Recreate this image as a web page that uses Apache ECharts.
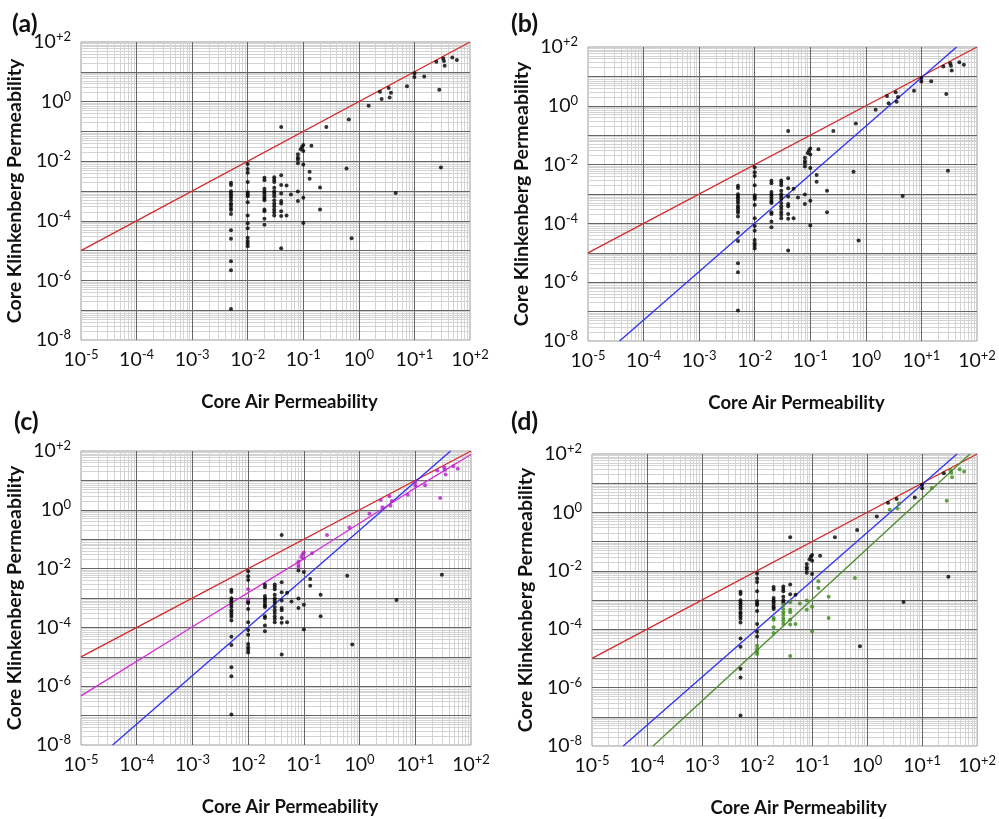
<!DOCTYPE html>
<html><head><meta charset="utf-8">
<script src="https://cdn.jsdelivr.net/npm/echarts@6/dist/echarts.min.js"></script>
<style>html,body{margin:0;padding:0;background:#fff}#c{width:999px;height:819px}</style>
</head><body><div id="c"></div>
<script>
// ---- data ----
const airPerm = [
  0.005,0.005,0.005,0.005,0.005,0.005,0.005,0.005,0.005,0.005,0.005,0.005,0.005,0.005,0.005,0.005,0.005,
  0.01,0.01,0.01,0.01,0.01,0.01,0.01,0.01,0.01,0.01,0.01,0.01,0.01,0.01,0.01,
  0.02,0.02,0.02,0.02,0.02,0.02,0.02,0.02,0.02,0.02,0.02,0.02,
  0.03,0.03,0.03,0.03,0.03,0.03,0.03,0.03,0.03,0.03,0.03,0.03,0.03,
  0.04,0.04,0.04,0.04,0.04,0.04,0.04,0.04,0.04,
  0.05,0.05,0.06,
  0.08,0.08,0.08,0.08,0.08,0.08,
  0.09,0.095,
  0.1,0.1,0.1,0.1,0.1,
  0.13,0.13,0.14,0.2,0.2,0.26,0.6,0.66,0.74,
  1.5,2.4,2.57,3.44,3.78,3.58,4.6,7.35,10,10,15,28,30,24.8,33,34,35,48,58
];
const klinkPerm = [
  1.9e-3,1.6e-3,9.9e-4,8.2e-4,7.1e-4,5.9e-4,4.9e-4,3.8e-4,3.3e-4,2.7e-4,2.3e-4,1.7e-4,4.8e-5,2.5e-5,4.4e-6,2.2e-6,1.1e-7,
  8.1e-3,5.5e-3,4.1e-3,2.0e-3,9.1e-4,7.6e-4,6.7e-4,4.2e-4,1.51e-4,8.2e-5,5.6e-5,2.7e-5,2.1e-5,1.74e-5,1.41e-5,
  2.8e-3,2.3e-3,1.18e-3,9.6e-4,8.3e-4,6.7e-4,5.6e-4,4.9e-4,2.4e-4,2.1e-4,1.17e-4,7.4e-5,
  2.9e-3,2.4e-3,2.0e-3,1.29e-3,9.9e-4,8.3e-4,6.7e-4,4.9e-4,3.8e-4,3.1e-4,2.4e-4,1.94e-4,1.51e-4,
  0.14,3.4e-3,1.58e-3,8.3e-4,4.6e-4,3.8e-4,2.1e-4,1.44e-4,1.2e-5,
  1.52e-3,1.5e-4,7.6e-4,
  0.0172,0.0133,0.0114,8.6e-3,9.6e-4,4.6e-4,
  0.025,0.03,
  0.035,0.022,7.7e-3,5.9e-4,8.5e-5,
  4.4e-3,2.6e-3,0.033,1.3e-3,2.4e-4,0.14,5.7e-3,0.25,2.6e-5,
  0.73,2.16,1.23,2.87,2.0,1.36,8.5e-4,3.27,8.9,6.7,6.9,2.5,6.2e-3,21.9,28,23,16,30,25
];
// 1 = drawn magenta in panel (c)
const magentaInC = [
  0,0,0,0,0,0,0,0,0,0,0,0,0,0,0,0,0,
  0,0,0,1,1,0,0,0,0,0,0,0,0,0,0,
  0,0,0,0,0,0,0,0,0,0,0,0,
  0,0,0,0,0,0,0,0,0,0,0,0,0,
  0,0,0,0,0,0,0,0,0,
  0,0,0,
  1,1,1,0,0,0,
  1,1,
  1,1,0,0,0,
  0,0,1,0,0,1,0,1,0,
  1,1,1,1,1,1,0,1,1,1,1,1,0,1,1,1,1,1,1
];
// 1 = drawn green in panel (d)
const greenInD = [
  0,0,0,0,0,0,0,0,0,0,0,0,0,0,0,0,0,
  0,0,0,0,0,0,0,0,0,0,0,1,1,1,1,
  0,0,0,0,0,0,0,0,1,1,1,1,
  0,0,0,0,0,0,1,1,1,1,1,1,1,
  0,0,0,1,1,1,1,1,1,
  0,1,1,
  0,0,0,0,1,1,
  0,0,
  0,0,0,1,1,
  1,1,0,1,1,0,1,0,0,
  0,0,1,0,1,1,0,0,0,0,1,1,0,0,1,1,1,1,1
];
const redLine = [[1e-5, 1e-5], [100, 100]];
const blueLine = [[3.7e-5, 1e-8], [43, 100]];
const magentaLine = [[1e-5, 4.7e-7], [1e-3, 1.05e-4], [0.1, 0.022], [10, 5.5], [100, 76]];
const greenLine = [[1.29e-4, 1e-8], [74, 100]];
const xExpRange = [-5, 2];
const yExpRange = [-8, 2];
const panelLetters = ['(a)', '(b)', '(c)', '(d)'];
const xTitle = 'Core Air Permeability';
const yTitle = 'Core Klinkenberg Permeability';

// ---- layout / style ----
const FONT = 'Lato, "Open Sans", sans-serif';
const grids = [
  {left: 81, top: 42, width: 389, height: 298},
  {left: 588, top: 47, width: 389, height: 294},
  {left: 81, top: 451, width: 390, height: 294},
  {left: 592, top: 454, width: 389, height: 292}
];
const letterPos = [[7, 6], [506, 6], [9, 404], [506, 404]];

function expText(v) {
  const e = Math.round(Math.log10(v));
  return e > 0 ? '+' + e : String(e);
}
const rich = {
  b: {fontSize: 19.5, lineHeight: 23, fontFamily: FONT, color: '#111'},
  s: {fontSize: 13, lineHeight: 15, verticalAlign: 'top', fontFamily: FONT, color: '#111'}
};

function gridValues(lo, hi, major) {
  const out = [];
  for (let e = lo; e < hi; e++) {
    if (major) { if (e > lo) out.push(Math.pow(10, e)); }
    else for (let m = 2; m <= 9; m++) out.push(m * Math.pow(10, e));
  }
  return out;
}

const xAxes = [], yAxes = [], series = [], titles = [];
grids.forEach((g, i) => {
  xAxes.push({
    gridIndex: i, type: 'log', logBase: 10, interval: 1, splitNumber: 7,
    min: Math.pow(10, xExpRange[0]), max: Math.pow(10, xExpRange[1]),
    axisLine: {show: false}, axisTick: {show: false}, splitLine: {show: false},
    axisLabel: {interval: 0, margin: 8, formatter: v => '{b|10}{s|' + expText(v) + '}', rich: rich},
    name: xTitle, nameLocation: 'middle', nameGap: 53,
    nameTextStyle: {fontSize: 18.5, fontWeight: 'bold', fontFamily: FONT, color: '#111', padding: [0, 0, 0, 28]}
  });
  yAxes.push({
    gridIndex: i, type: 'log', logBase: 10, interval: 1, splitNumber: 10,
    min: Math.pow(10, yExpRange[0]), max: Math.pow(10, yExpRange[1]),
    axisLine: {show: false}, axisTick: {show: false}, splitLine: {show: false},
    axisLabel: {interval: 0, margin: 10, hideOverlap: false, formatter: v => {
      const e = Math.round(Math.log10(v));
      return (Math.abs(e) % 2 === 0) ? '{b|10}{s|' + expText(v) + '}' : '';
    }, rich: rich},
    name: yTitle, nameLocation: 'middle', nameGap: 56, nameRotate: 90,
    nameTextStyle: {fontSize: 19.5, fontWeight: 'bold', fontFamily: FONT, color: '#111'}
  });
  titles.push({text: panelLetters[i], left: letterPos[i][0], top: letterPos[i][1],
    textStyle: {fontSize: 25, fontWeight: 'bold', fontFamily: FONT, color: '#111'}});

  const minorData = gridValues(xExpRange[0], xExpRange[1], false).map(v => ({xAxis: v}))
    .concat(gridValues(yExpRange[0], yExpRange[1], false).map(v => ({yAxis: v})));
  const majorData = gridValues(xExpRange[0], xExpRange[1], true).map(v => ({xAxis: v}))
    .concat(gridValues(yExpRange[0], yExpRange[1], true).map(v => ({yAxis: v})));
  const mk = (data, color, z) => ({silent: true, z: z, precision: 15, symbol: ['none', 'none'], label: {show: false},
    emphasis: {disabled: true}, animation: false, lineStyle: {color: color, width: 1, type: 'solid'}, data: data});
  series.push({type: 'line', xAxisIndex: i, yAxisIndex: i, data: [], z: 1, silent: true, markLine: mk(minorData, '#d3d3d3', 1)});
  series.push({type: 'line', xAxisIndex: i, yAxisIndex: i, data: [], z: 2, silent: true, markLine: mk(majorData, '#666666', 2)});

  const black = [], mag = [], grn = [];
  airPerm.forEach((x, k) => {
    const p = [x, klinkPerm[k]];
    if (i === 2 && magentaInC[k]) mag.push(p);
    else if (i === 3 && greenInD[k]) grn.push(p);
    else black.push(p);
  });
  const sc = (data, color) => ({type: 'scatter', xAxisIndex: i, yAxisIndex: i, data: data, z: 6,
    symbolSize: 4, itemStyle: {color: color}, silent: true, animation: false});
  const ln = (data, color) => ({type: 'line', xAxisIndex: i, yAxisIndex: i, data: data, z: 5,
    showSymbol: false, lineStyle: {color: color, width: 1.4}, silent: true, animation: false});

  series.push(ln(redLine, '#d42b2b'));
  if (i >= 1) series.push(ln(blueLine, '#3535f0'));
  if (i === 2) series.push(ln(magentaLine, '#d22fd6'));
  if (i === 3) series.push(ln(greenLine, '#4f8f2f'));
  series.push(sc(black, '#000'));
  if (mag.length) series.push(sc(mag, '#b322c8'));
  if (grn.length) series.push(sc(grn, '#3d8a1e'));
});

const chart = echarts.init(document.getElementById('c'), null, {renderer: 'canvas'});
chart.setOption({
  animation: false,
  backgroundColor: '#fff',
  title: titles,
  grid: grids.map(g => Object.assign({show: true, borderColor: '#9a9a9a', borderWidth: 1, backgroundColor: 'transparent'}, g)),
  xAxis: xAxes,
  yAxis: yAxes,
  series: series
});
</script>
</body></html>
